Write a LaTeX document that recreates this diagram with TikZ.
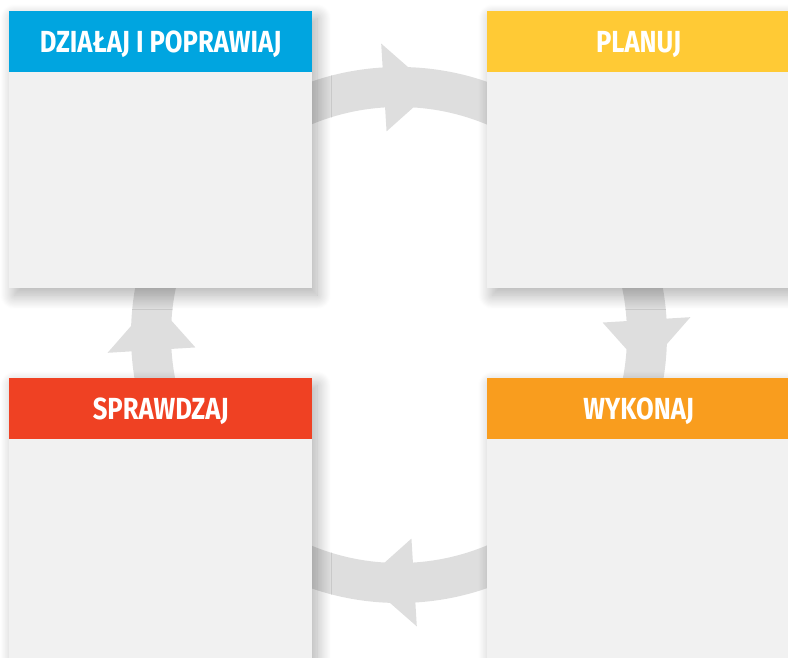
\documentclass[tikz,border=0pt]{standalone}
\usepackage{fontspec}
\setmainfont{Fira Sans}[FakeStretch=0.84]
\usepackage{tikz}
\usetikzlibrary{positioning,shadows.blur}
\definecolor{actblue}{RGB}{0,165,224}
\definecolor{planyellow}{RGB}{255,202,53}
\definecolor{checkred}{RGB}{239,65,35}
\definecolor{doorange}{RGB}{249,157,30}
\definecolor{panelgray}{RGB}{241,241,241}
\definecolor{ringgray}{RGB}{222,222,222}
\tikzset{
  panel/.style={rectangle,fill=panelgray,minimum width=303pt,minimum height=277pt,inner sep=0pt,anchor=north west,
    blur shadow={shadow xshift=5pt,shadow yshift=-7pt,shadow blur radius=14pt,shadow blur steps=20,shadow opacity=32}},
  lowpanel/.style={panel,minimum height=285pt},
  hdr/.style={rectangle,minimum width=303pt,minimum height=61pt,inner sep=0pt,anchor=north,text=white,
    text depth=0pt,font=\bfseries\fontsize{30.5}{30.5}\selectfont},
  arrowhead/.style={fill=ringgray}
}
\begin{document}
\begin{tikzpicture}[x=1pt,y=1pt]
  \useasboundingbox (0,0) rectangle (788,658);
  \coordinate (c) at (399,323);

  % cycle ring with heads
  \fill[ringgray,even odd rule] (c) circle (268pt) (c) circle (228pt);
  \foreach \a in {0,90,180,270}
    \fill[arrowhead,shift={(c)}] (\a+3.5:292pt) -- (\a-8:248pt) -- (\a+3.5:204pt) -- cycle;

  % four panels
  \node[panel] (act) at (9,647) {};
  \node[panel] (plan) at (487,647) {};
  \node[lowpanel] (check) at (9,280) {};
  \node[lowpanel] (do) at (487,280) {};

  \node[hdr,fill=actblue] (acth) at (act.north) {DZIAŁAJ I POPRAWIAJ};
  \node[hdr,fill=planyellow] (planh) at (plan.north) {PLANUJ};
  \node[hdr,fill=checkred] (checkh) at (check.north) {SPRAWDZAJ};
  \node[hdr,fill=doorange] (doh) at (do.north) {WYKONAJ};
\end{tikzpicture}
\end{document}
